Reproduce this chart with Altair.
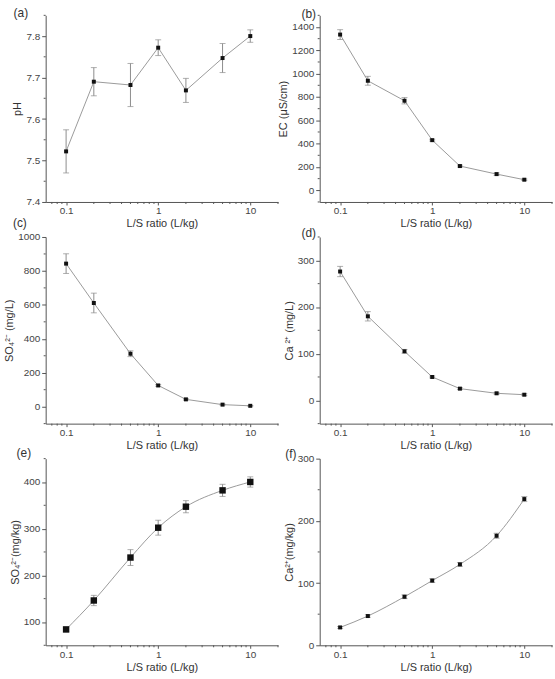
import altair as alt
import pandas as pd

# ---------------- data ----------------
ls_ratio = [0.1, 0.2, 0.5, 1, 2, 5, 10]

ph_vals = [7.522, 7.690, 7.682, 7.772, 7.669, 7.747, 7.800]
ph_errs = [0.052, 0.034, 0.052, 0.019, 0.029, 0.035, 0.015]

ec_vals = [1335, 939, 768, 430, 208, 139, 91]
ec_errs = [42, 38, 27, 8, 8, 10, 6]

so4_l_vals = [843, 611, 312, 125, 43, 12, 5]
so4_l_errs = [58, 58, 17, 5, 4, 3, 2]

ca_l_vals = [276, 180, 105, 50, 25, 15, 12]
ca_l_errs = [11, 10, 4, 2, 2, 2, 2]

so4_kg_vals = [84, 146, 238, 302, 347, 382, 400]
so4_kg_errs = [5, 11, 17, 16, 13, 13, 11]

ca_kg_vals = [28.7, 47, 78, 104, 130, 176, 235]
ca_kg_errs = [1.5, 2, 3, 3, 3, 4, 4]

x_major = [0.1, 1, 10]
x_minor = [0.07, 0.08, 0.09, 0.2, 0.3, 0.4, 0.5, 0.6, 0.7, 0.8, 0.9,
           2, 3, 4, 5, 6, 7, 8, 9, 20]
x_title = "L/S ratio (L/kg)"

panel_labels = ["(a)", "(b)", "(c)", "(d)", "(e)", "(f)"]
y_titles = ["pH", "EC (μS/cm)", "SO₄²⁻ (mg/L)", "Ca ²⁺ (mg/L)",
            "SO₄²⁻(mg/kg)", "Ca²⁺(mg/kg)"]
y_domains = [[7.4, 7.85], [-100, 1500], [-100, 1000], [-50, 350], [50, 450], [0, 300]]
y_major = [[7.4, 7.5, 7.6, 7.7, 7.8],
           [0, 200, 400, 600, 800, 1000, 1200, 1400],
           [0, 200, 400, 600, 800, 1000],
           [0, 100, 200, 300],
           [100, 200, 300, 400],
           [0, 100, 200, 300]]
y_minor = [[7.45, 7.55, 7.65, 7.75, 7.85],
           [-100, 100, 300, 500, 700, 900, 1100, 1300, 1500],
           [-100, 100, 300, 500, 700, 900],
           [-50, 50, 150, 250, 350],
           [50, 150, 250, 350, 450],
           [50, 150, 250]]
y_formats = [".1f", "d", "d", "d", "d", "d"]
series_vals = [ph_vals, ec_vals, so4_l_vals, ca_l_vals, so4_kg_vals, ca_kg_vals]
series_errs = [ph_errs, ec_errs, so4_l_errs, ca_l_errs, so4_kg_errs, ca_kg_errs]

# ---------------- style ----------------
W, H = 234, 188
FONT = "Liberation Sans"
AX = "#555555"
marker_sizes = [16, 16, 16, 16, 42, 16]
interps = ["linear", "linear", "linear", "linear", "monotone", "monotone"]
label_pos = [(-25, -2), (-11, -1), (-26, -14), (-11, -4), (-22, -6), (-29, -5)]


def make_panel(i):
    vals, errs = series_vals[i], series_errs[i]
    df = pd.DataFrame({
        "x": ls_ratio,
        "y": vals,
        "lo": [v - e for v, e in zip(vals, errs)],
        "hi": [v + e for v, e in zip(vals, errs)],
    })
    xs = alt.Scale(type="log", domain=[0.06, 20], nice=False)
    ys = alt.Scale(domain=y_domains[i], nice=False, zero=False)
    base = alt.Chart(df)

    x_main = alt.X("x:Q", scale=xs, axis=alt.Axis(
        values=x_major, title=x_title, orient="bottom", tickSize=3,
        labelPadding=1, titlePadding=2, format="~g"))
    y_main = alt.Y("y:Q", scale=ys, axis=alt.Axis(
        values=y_major[i], title=y_titles[i], orient="left", tickSize=4,
        labelPadding=2, titlePadding=3, format=y_formats[i]))

    line = base.mark_line(color="#9a9a9a", strokeWidth=1,
                          interpolate=interps[i]).encode(x=x_main, y=y_main)

    xn = alt.X("x:Q", scale=xs, axis=None)
    rule = base.mark_rule(color="#8c8c8c", strokeWidth=1).encode(
        x=xn, y=alt.Y("lo:Q", scale=ys, axis=None), y2="hi:Q")
    cap_lo = base.mark_tick(orient="horizontal", size=6, thickness=1,
                            color="#8c8c8c").encode(
        x=xn, y=alt.Y("lo:Q", scale=ys, axis=None))
    cap_hi = base.mark_tick(orient="horizontal", size=6, thickness=1,
                            color="#8c8c8c").encode(
        x=xn, y=alt.Y("hi:Q", scale=ys, axis=None))
    pts = base.mark_square(size=marker_sizes[i], color="#111111",
                           opacity=1).encode(
        x=xn, y=alt.Y("y:Q", scale=ys, axis=None))

    # minor ticks (log x, half-step y)
    xminor = alt.Chart(pd.DataFrame({"m": x_minor})).mark_rule(
        color=AX, strokeWidth=1).encode(
        x=alt.X("m:Q", scale=xs, axis=None),
        y=alt.value(H), y2=alt.value(H + 2))
    yminor = alt.Chart(pd.DataFrame({"m": y_minor[i]})).mark_rule(
        color=AX, strokeWidth=1).encode(
        y=alt.Y("m:Q", scale=ys, axis=None),
        x=alt.value(0), x2=alt.value(-2))

    lx, ly = label_pos[i]
    lab = alt.Chart(pd.DataFrame({"t": [panel_labels[i]]})).mark_text(
        font=FONT, fontSize=12, color="#333333", align="center",
        baseline="middle").encode(text="t:N", x=alt.value(lx), y=alt.value(ly))

    return alt.layer(line, rule, cap_lo, cap_hi, pts, xminor, yminor, lab
                     ).resolve_axis(x="independent", y="independent"
                     ).properties(width=W, height=H)


panels = [make_panel(i) for i in range(6)]

chart = alt.concat(*panels, columns=2, spacing={"row": 35.25, "column": 42},
                   bounds="flush").properties(
    padding={"left": 3, "top": 5, "right": 2, "bottom": 2}
).configure_view(stroke=None).configure_axis(
    grid=False, labelFont=FONT, titleFont=FONT, labelFontSize=10,
    titleFontSize=11, labelColor="#444444", titleColor="#333333",
    domainColor=AX, tickColor=AX, titleFontWeight="normal"
)

chart.save("out.html", embed_options={"renderer": "svg", "actions": False})
